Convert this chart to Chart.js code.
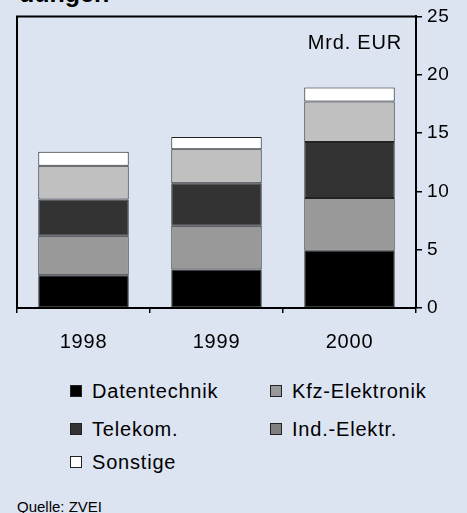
<!DOCTYPE html>
<html>
<head>
<meta charset="utf-8">
<script src="https://cdn.jsdelivr.net/npm/chart.js@4/dist/chart.umd.min.js"></script>
<style>
  html, body { margin: 0; padding: 0; }
  body { width: 467px; height: 513px; background: #dce3f1; position: relative; overflow: hidden;
         font-family: "Liberation Sans", Arial, sans-serif; color: #000; }
  #wrap { position: absolute; left: 0; top: 0; width: 467px; height: 360px; }
  .txt { position: absolute; white-space: nowrap; }
  #titel { left: 19px; top: -20.6px; font-size: 25px; font-weight: bold; }
  #einheit { right: 65px; top: 31px; font-size: 20px; letter-spacing: 0.8px; }
  #quelle { left: 17px; top: 498px; font-size: 15px; }
  .item { position: absolute; display: flex; align-items: center; height: 24px; font-size: 20px; letter-spacing: 0.8px; }
  .box { width: 12px; height: 12px; box-sizing: border-box; border: 1px solid #222; margin-right: 10px; }
</style>
</head>
<body>
<div id="titel" class="txt">dungen</div>
<div id="wrap"><canvas id="chartJS" width="467" height="360"></canvas></div>
<div id="einheit" class="txt">Mrd. EUR</div>
<div id="legende"></div>
<div id="quelle" class="txt">Quelle: ZVEI</div>
<script>
const jahre = ["1998", "1999", "2000"];
const datentechnik = [2.8, 3.3, 4.9];
const kfzElektronik = [3.4, 3.75, 4.53];
const telekom = [3.1, 3.65, 4.8];
const indElektr = [2.9, 2.9, 3.47];
const sonstige = [1.2, 1.05, 1.2];
const namen = ["Datentechnik", "Kfz-Elektronik", "Telekom.", "Ind.-Elektr.", "Sonstige"];
const farben = ["#000000", "#999999", "#333333", "#c0c0c0", "#ffffff"];
const legendFarben = ["#000000", "#999999", "#333333", "#808080", "#ffffff"];

// Rahmen oben und links um die Zeichenfläche
const rahmen = {
    id: "rahmen",
    beforeLayout(chart) { chart.ctx.letterSpacing = "0.8px"; },
    beforeDraw(chart) { chart.ctx.letterSpacing = "0.8px"; },
    afterDraw(chart) {
        const a = chart.chartArea;
        const ctx = chart.ctx;
        ctx.save();
        ctx.strokeStyle = "#000";
        ctx.lineWidth = 2;
        ctx.beginPath();
        ctx.moveTo(a.left, a.bottom);
        ctx.lineTo(a.left, a.top);
        ctx.lineTo(a.right, a.top);
        ctx.stroke();
        ctx.restore();
    }
};

const werte = [datentechnik, kfzElektronik, telekom, indElektr, sonstige];
const datasets = namen.map((n, i) => ({
    label: n,
    data: werte[i],
    backgroundColor: farben[i],
    borderColor: "#222",
    borderWidth: 1,
    borderSkipped: false,
    categoryPercentage: 1,
    barPercentage: 0.68
}));

const config = {
    type: "bar",
    data: { labels: jahre, datasets: datasets },
    options: {
        responsive: false,
        animation: false,
        devicePixelRatio: 1,
        layout: { padding: { left: 17, top: 16, right: 0, bottom: 0 } },
        plugins: { legend: { display: false }, tooltip: { enabled: false } },
        scales: {
            x: {
                stacked: true,
                grid: { offset: true, drawOnChartArea: false, tickLength: 5, color: "#000", lineWidth: 1.5 },
                border: { color: "#000", width: 2 },
                ticks: { color: "#000", font: { family: "Liberation Sans", size: 20 }, padding: 17 },
                afterFit(scale) { scale.height = 52; }
            },
            y: {
                stacked: true,
                position: "right",
                min: 0,
                max: 25,
                grid: { drawOnChartArea: false, tickLength: 6, color: "#000", lineWidth: 1.5 },
                border: { color: "#000", width: 2 },
                ticks: { stepSize: 5, color: "#000", font: { family: "Liberation Sans", size: 19 }, padding: 5 },
                afterFit(scale) { scale.width = 51; }
            }
        }
    },
    plugins: [rahmen]
};

const myChart = new Chart(document.getElementById("chartJS"), config);

// Legende in zwei Spalten
const spalten = [70, 270];
const zeilen = [379, 417, 450];
const legende = document.getElementById("legende");
namen.forEach((n, i) => {
    const el = document.createElement("div");
    el.className = "item";
    el.style.left = spalten[i % 2] + "px";
    el.style.top = zeilen[Math.floor(i / 2)] + "px";
    el.innerHTML = '<span class="box" style="background:' + legendFarben[i] + '"></span><span>' + n + "</span>";
    legende.appendChild(el);
});
</script>
</body>
</html>
